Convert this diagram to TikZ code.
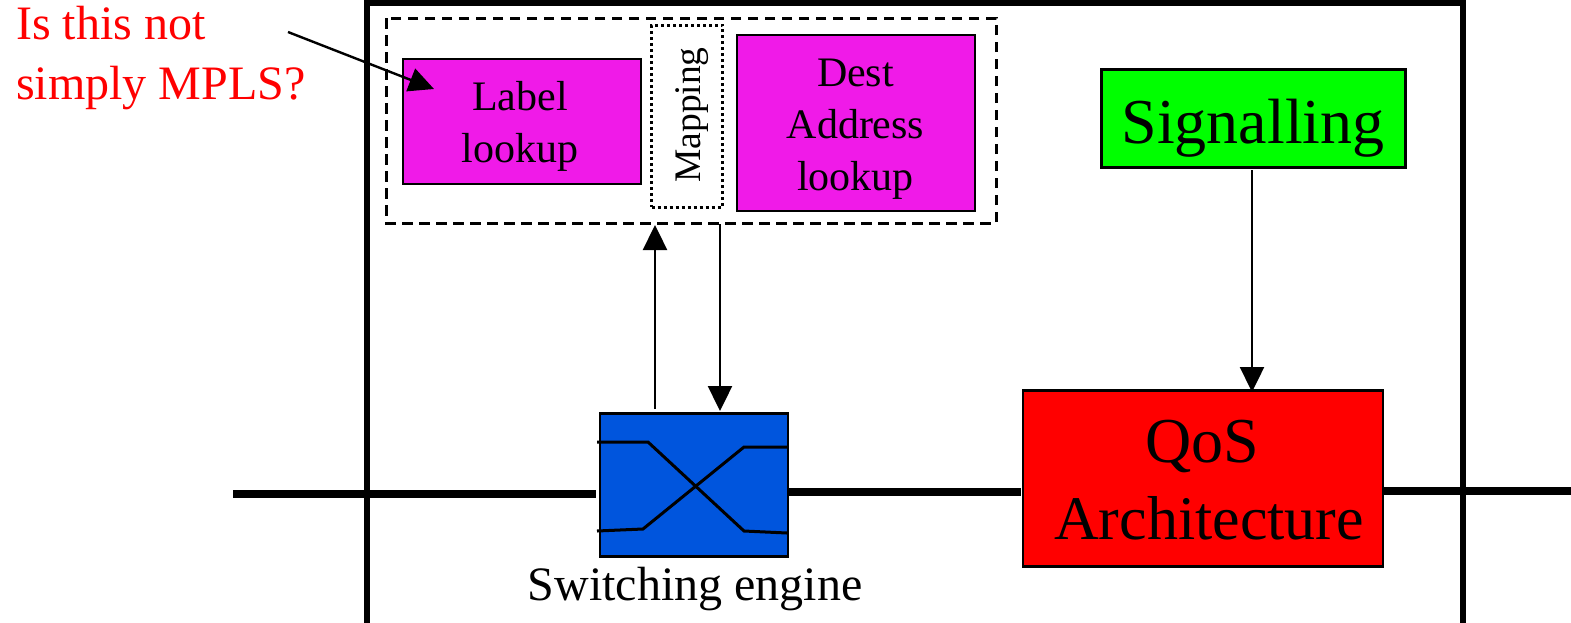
\documentclass[tikz,border=0pt]{standalone}
\usepackage{fontspec}
\setmainfont{Liberation Serif}
\usetikzlibrary{arrows.meta}
\definecolor{mag}{RGB}{240,26,232}
\definecolor{grn}{RGB}{0,255,0}
\definecolor{blu}{RGB}{0,85,221}
\begin{document}
\begin{tikzpicture}[x=1pt,y=-1pt,
 box/.style={draw=black,line width=2.8pt,anchor=north west,inner sep=0pt,align=center},
 lbl/.style={inner sep=0pt,align=center,anchor=center},
 arr/.style={line width=2.4pt,-{Stealth[length=25pt,width=24pt,inset=0pt]}},
 thick line/.style={line width=8pt},
 thin line/.style={line width=3pt}]
\useasboundingbox (0,0) rectangle (1571,622);
\draw[line width=6pt] (366.5,640) -- (366.5,2.5) -- (1463,2.5) -- (1463,640);
\draw[line width=3pt,dash pattern=on 10.5pt off 6.5pt] (386,18) rectangle (996,223);
\node[box,fill=mag,minimum width=238pt,minimum height=125pt] (label) at (401.5,57.5) {};
\node[lbl,font=\fontsize{42}{52}\selectfont] at (520,126) {Label\\lookup};
\node[box,line width=3pt,dash pattern=on 3pt off 3pt,minimum width=71pt,minimum height=182pt] (map) at (650,23.5) {};
\node[lbl,rotate=90,font=\fontsize{37.5}{40}\selectfont] at (692,115) {Mapping};
\node[box,fill=mag,minimum width=238pt,minimum height=176pt] (dest) at (735.5,33.5) {};
\node[lbl,font=\fontsize{42}{52}\selectfont] at (855.5,129) {Dest\\Address\\lookup};
\node[box,fill=grn,minimum width=304pt,minimum height=98pt] (sig) at (1100,68) {};
\node[lbl,font=\fontsize{64}{70}\selectfont] at (1253,128) {Signalling};
\node[box,fill=red,minimum width=360pt,minimum height=176pt] (qos) at (1021.5,389) {};
\node[lbl,font=\fontsize{64}{70}\selectfont] at (1202,446) {QoS};
\node[lbl,font=\fontsize{62}{70}\selectfont] at (1209,518) {Architecture};
\node[box,fill=blu,minimum width=188pt,minimum height=143pt] (sw) at (598.5,412) {};
\node[lbl,font=\fontsize{48}{50}\selectfont] (swl) at (695,589) {Switching engine};
\node[lbl,text=red,font=\fontsize{48}{60}\selectfont,align=left,anchor=north west] (q) at (16,6) {Is this not\\simply MPLS?};
\coordinate (a1) at (655,409); \coordinate (a2) at (655,225);
\coordinate (b1) at (720,224); \coordinate (b2) at (720,411);
\coordinate (c1) at (1252,170); \coordinate (c2) at (1252,392);
\coordinate (d1) at (288,32); \coordinate (d2) at (434,89);
\draw[arr] (a1) -- (a2);
\draw[arr] (b1) -- (b2);
\draw[arr] (c1) -- (c2);
\draw[arr] (d1) -- (d2);
\draw[thin line] (597,442) -- (648,442) -- (744,531) -- (787,533);
\draw[thin line] (597,531) -- (643,529) -- (744,447) -- (787,447);
\draw[thick line] (233,494) -- (596,494);
\draw[thick line] (789,492) -- (1021,492);
\draw[thick line] (1383,491) -- (1571,491);
\end{tikzpicture}
\end{document}
